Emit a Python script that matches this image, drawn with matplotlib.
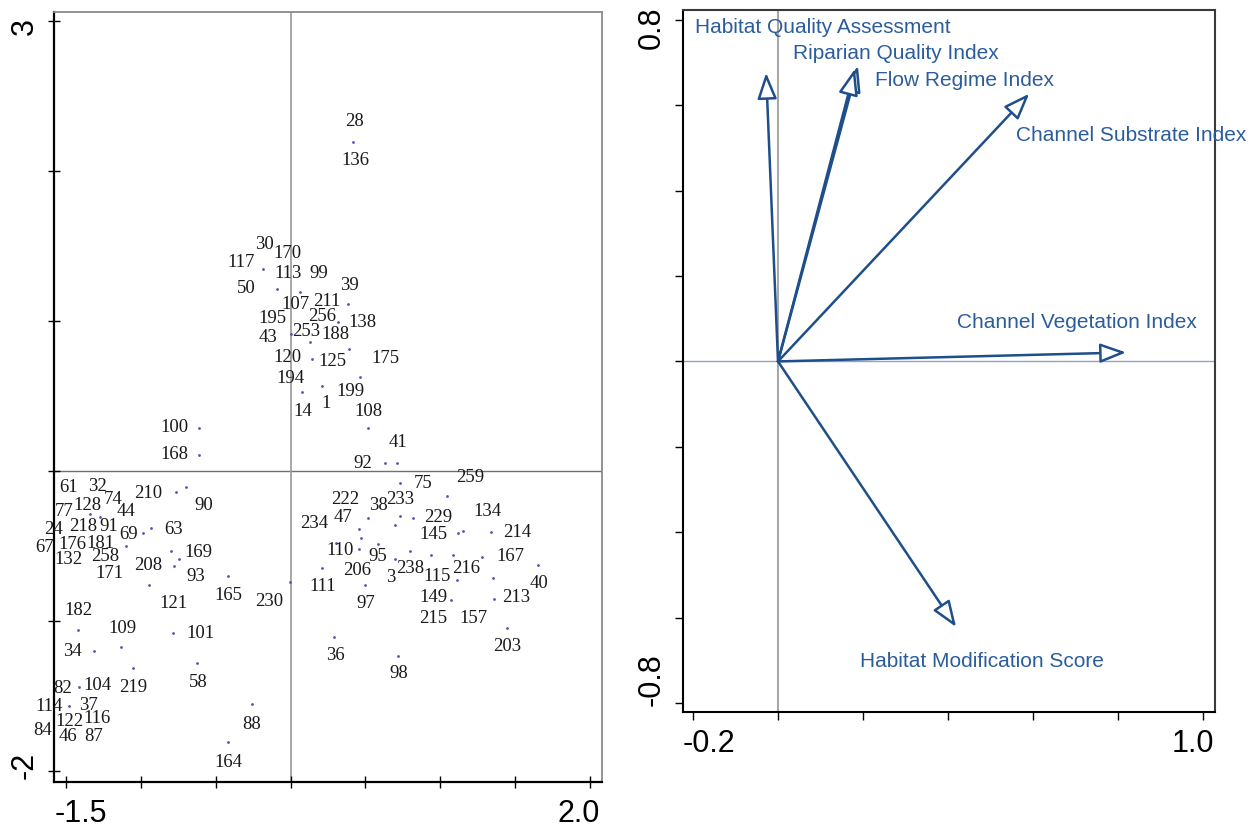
import matplotlib
matplotlib.use("Agg")
import matplotlib.pyplot as plt
from matplotlib.transforms import ScaledTranslation

# ---- site scores (left panel): label positions ----
site_ids = [
    "28", "136", "30", "170", "117", "113", "99", "50", "39", "107", "211",
    "195", "256", "138", "43", "253", "188", "120", "125", "175", "194",
    "199", "14", "1", "108", "41", "92", "100", "168", "61", "32", "210",
    "74", "128", "77", "90", "44", "24", "218", "91", "69", "63", "67",
    "176", "181", "169", "132", "258", "208", "171", "93", "121", "165",
    "230", "182", "109", "101", "34", "58", "82", "104", "219", "114", "37",
    "122", "116", "88", "84", "46", "87", "164", "75", "259", "222", "38",
    "233", "134", "47", "234", "229", "145", "214", "110", "95", "167",
    "206", "3", "238", "115", "216", "40", "111", "97", "149", "213", "215",
    "157", "203", "36", "98",
]
site_x = [
    0.43, 0.43, -0.177, -0.017, -0.33, -0.017, 0.19, -0.297, 0.39, 0.03, 0.243,
    -0.117, 0.21, 0.483, -0.15, 0.103, 0.297, -0.017, 0.283, 0.63, -0.003,
    0.397, 0.083, 0.237, 0.523, 0.717, 0.483, -0.777, -0.777, -1.477, -1.29, -0.95,
    -1.183, -1.357, -1.51, -0.577, -1.097, -1.583, -1.383, -1.21, -1.083, -0.783, -1.637,
    -1.457, -1.27, -0.617, -1.483, -1.237, -0.95, -1.21, -0.63, -0.783, -0.417,
    -0.143, -1.417, -1.123, -0.603, -1.457, -0.617, -1.517, -1.29, -1.05, -1.61, -1.35,
    -1.477, -1.29, -0.257, -1.65, -1.483, -1.31, -0.417, 0.883, 1.197, 0.363, 0.583,
    0.73, 1.31, 0.35, 0.157, 0.983, 0.95, 1.51, 0.33, 0.583, 1.463,
    0.443, 0.67, 0.797, 0.977, 1.17, 1.657, 0.217, 0.503, 0.95, 1.503, 0.95,
    1.217, 1.443, 0.297, 0.723,
]
site_y = [
    2.327, 2.067, 1.507, 1.447, 1.393, 1.32, 1.32, 1.22, 1.24, 1.113, 1.133,
    1.02, 1.033, 0.993, 0.893, 0.933, 0.913, 0.76, 0.727, 0.753, 0.62,
    0.533, 0.40, 0.453, 0.40, 0.187, 0.047, 0.287, 0.107, -0.113, -0.10, -0.147,
    -0.193, -0.233, -0.273, -0.233, -0.273, -0.393, -0.373, -0.373, -0.42, -0.387, -0.513,
    -0.493, -0.48, -0.54, -0.593, -0.573, -0.633, -0.68, -0.70, -0.88, -0.827,
    -0.873, -0.927, -1.047, -1.08, -1.20, -1.407, -1.447, -1.433, -1.44, -1.567, -1.56,
    -1.673, -1.653, -1.687, -1.733, -1.773, -1.767, -1.94, -0.08, -0.04, -0.187, -0.227,
    -0.187, -0.273, -0.313, -0.353, -0.313, -0.42, -0.413, -0.527, -0.573, -0.573,
    -0.66, -0.707, -0.647, -0.70, -0.653, -0.753, -0.767, -0.88, -0.84, -0.84, -0.98,
    -0.98, -1.173, -1.233, -1.347,
]

# small point markers visible in the picture
dot_x = [
    0.417, -0.183, -0.09, 0.063, 0.383, 0.317, 0.003, 0.13, 0.39, 0.143, 0.463,
    0.21, 0.077, 0.517, 0.63, 0.71, -0.61, -0.61, -0.763, -0.697, -1.337, -1.27,
    -0.983, -0.93, -1.097, -0.797, -0.743, -0.777, -0.417, -0.943, -1.417, -0.783,
    -1.31, -1.13, -1.05, -0.623, -1.41, -1.477, -0.257, -0.417, 0.73, 1.043, 0.517,
    0.73, 0.817, 0.697, 0.457, 1.117, 1.15, 1.337, 0.47, 0.583, 0.303, 0.457,
    0.697, 0.797, 0.937, 1.083, 1.277, 1.65, 0.21, -0.003, 0.497, 1.11, 1.35,
    1.07, 1.357, 1.443, 0.29, 0.717,
]
dot_y = [
    2.193, 1.347, 1.213, 1.193, 1.113, 0.993, 0.913, 0.86, 0.813, 0.747, 0.627,
    0.567, 0.527, 0.287, 0.053, 0.053, 0.287, 0.107, -0.14, -0.107, -0.287, -0.307,
    -0.413, -0.38, -0.50, -0.533, -0.587, -0.633, -0.70, -0.76, -1.06, -1.08,
    -1.20, -1.173, -1.313, -1.28, -1.44, -1.567, -1.553, -1.807, -0.08, -0.167, -0.313,
    -0.30, -0.313, -0.36, -0.387, -0.413, -0.40, -0.407, -0.447, -0.487, -0.48, -0.52,
    -0.587, -0.533, -0.56, -0.56, -0.573, -0.627, -0.647, -0.74, -0.76, -0.727, -0.713,
    -0.86, -0.853, -1.047, -1.107, -1.233,
]

# ---- variable loadings (right panel) ----
var_names = [
    "Habitat Quality Assessment", "Riparian Quality Index", "Flow Regime Index",
    "Channel Substrate Index", "Channel Vegetation Index", "Habitat Modification Score",
]
var_x = [-0.028, 0.188, 0.181, 0.591, 0.819, 0.419]
var_y = [0.676, 0.692, 0.685, 0.627, 0.021, -0.622]
# where each variable name sits
name_x = [-0.195, 0.035, 0.228, 0.56, 0.421, 0.193]
name_y = [0.781, 0.720, 0.657, 0.529, 0.091, -0.702]

ARROW = "#1f4f8a"
NAME = "#2b5d9b"
SANS = "Liberation Sans"


def shift(label, dx, dy, fig):
    """Mueve una etiqueta de eje dx, dy pixeles (dy positivo hacia abajo)."""
    label.set_transform(label.get_transform()
                        + ScaledTranslation(dx / 100, -dy / 100, fig.dpi_scale_trans))


fig = plt.figure(figsize=(12.52, 8.25), dpi=100)

# ---------------- left panel: sites ----------------
ax1 = fig.add_axes([54 / 1252, 1 - 782 / 825, 548 / 1252, 770 / 825])
ax1.set_xlim(-1.577, 2.077)
ax1.set_ylim(-2.073, 3.06)
ax1.axhline(0, color="#707070", lw=1.0, zorder=1)
ax1.axvline(0, color="#a0a0a0", lw=1.3, zorder=1)
ax1.scatter(dot_x, dot_y, s=4, color="#5b4fb0", lw=0, zorder=2)
for lab, x, y in zip(site_ids, site_x, site_y):
    ax1.text(x, y, lab, ha="center", va="center", fontsize=13.5,
             family="Liberation Serif", color="#1a1a1a", zorder=3)

for side in ["left", "bottom"]:
    ax1.spines[side].set_color("black")
    ax1.spines[side].set_linewidth(1.6)
for side in ["top", "right"]:
    ax1.spines[side].set_color("#8a8a8a")
    ax1.spines[side].set_linewidth(1.3)

ax1.set_xticks([-1.5, -1.0, -0.5, 0.0, 0.5, 1.0, 1.5, 2.0])
ax1.set_xticklabels(["-1.5", "", "", "", "", "", "", "2.0"])
ax1.set_yticks([-2, -1, 0, 1, 2, 3])
ax1.set_yticklabels(["-2", "", "", "", "", "3"], rotation=90, va="center")
ax1.tick_params(direction="inout", length=8, width=1, labelsize=22, pad=6)
for t in ax1.get_xticklabels() + ax1.get_yticklabels():
    t.set_family(SANS)
xt1 = ax1.xaxis.get_major_ticks()
yt1 = ax1.yaxis.get_major_ticks()
shift(xt1[0].label1, 15, 3, fig)
shift(xt1[-1].label1, -12, 3, fig)
shift(yt1[0].label1, 0, -6, fig)
shift(yt1[-1].label1, 0, 5, fig)

# ---------------- right panel: variables ----------------
ax2 = fig.add_axes([683 / 1252, 1 - 712 / 825, 532 / 1252, 702 / 825])
ax2.set_xlim(-0.2235, 1.028)
ax2.set_ylim(-0.821, 0.823)
ax2.axhline(0, color="#8fa6c2", lw=1.0, zorder=1)
ax2.axvline(0, color="#a8a8a8", lw=1.5, zorder=1)
for vx, vy in zip(var_x, var_y):
    ax2.annotate("", xy=(vx, vy), xytext=(0, 0),
                 arrowprops=dict(arrowstyle="-|>,head_length=0.8,head_width=0.3",
                                 mutation_scale=20, fc="white", ec=ARROW,
                                 lw=1.8, shrinkA=0, shrinkB=0), zorder=3)
for name, nx, ny in zip(var_names, name_x, name_y):
    ax2.text(nx, ny, name, ha="left", va="center", fontsize=15,
             family=SANS, color=NAME, zorder=4)

for side in ax2.spines:
    ax2.spines[side].set_color("#3a3a3a")
    ax2.spines[side].set_linewidth(1.5)
ax2.spines["left"].set_color("black")
ax2.spines["bottom"].set_color("black")

ax2.set_xticks([-0.2, 0.0, 0.2, 0.4, 0.6, 0.8, 1.0])
ax2.set_xticklabels(["-0.2", "", "", "", "", "", "1.0"])
ax2.set_yticks([-0.8, -0.6, -0.4, -0.2, 0.0, 0.2, 0.4, 0.6, 0.8])
ax2.set_yticklabels(["-0.8", "", "", "", "", "", "", "", "0.8"],
                    rotation=90, va="center")
ax2.tick_params(direction="out", length=6, width=1, labelsize=22, pad=6)
for t in ax2.get_xticklabels() + ax2.get_yticklabels():
    t.set_family(SANS)
xt2 = ax2.xaxis.get_major_ticks()
yt2 = ax2.yaxis.get_major_ticks()
shift(xt2[0].label1, 16, 0, fig)
shift(xt2[-1].label1, -10, 0, fig)
shift(yt2[0].label1, 0, -23, fig)
shift(yt2[-1].label1, 0, 8, fig)

fig.savefig("out.png", dpi=100)
